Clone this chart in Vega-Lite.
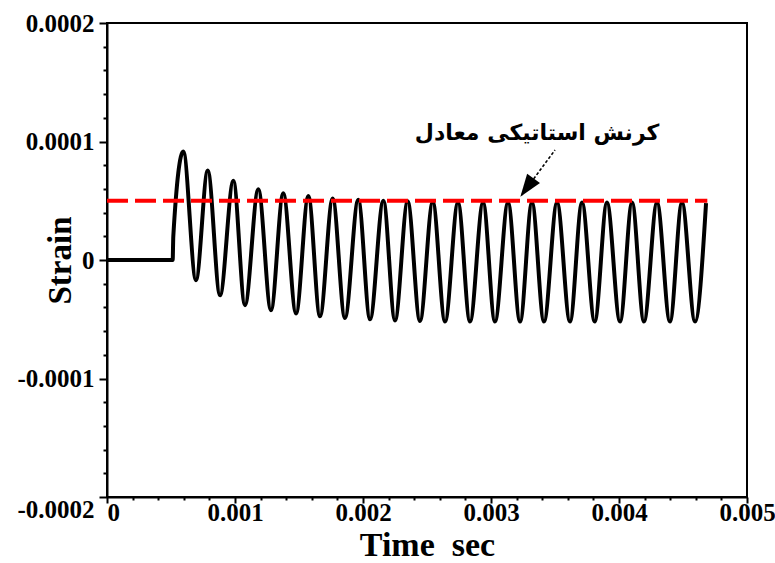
{
  "$schema": "https://vega.github.io/schema/vega-lite/v6.json",
  "width": 640,
  "height": 474,
  "autosize": "none",
  "padding": {"left": 107, "top": 23, "right": 28, "bottom": 66},
  "background": "white",
  "config": {
    "view": {"stroke": "black", "strokeWidth": 2},
    "axis": {
      "domainColor": "black", "domainWidth": 2,
      "tickColor": "black", "tickWidth": 2,
      "labelFont": "Liberation Serif", "labelFontWeight": "bold", "labelFontSize": 25, "labelColor": "black",
      "titleFont": "Liberation Serif", "titleFontWeight": "bold", "titleColor": "black",
      "grid": false, "labelOverlap": false, "labelBound": false, "labelFlush": false
    }
  },
  "resolve": {"axis": {"x": "independent", "y": "independent"}},
  "datasets": {
    "signal": [
      {"t": 0, "v": 0}, {"t": 0.000513, "v": 0}, {"t": 0.000518, "v": 0.00002},
      {"t": 0.000596, "v": 0.0000915}, {"t": 0.000695, "v": -0.000017},
      {"t": 0.000787, "v": 0.0000755}, {"t": 0.000883, "v": -0.0000297},
      {"t": 0.000987, "v": 0.0000668}, {"t": 0.001078, "v": -0.0000381},
      {"t": 0.001182, "v": 0.0000597}, {"t": 0.001281, "v": -0.0000423},
      {"t": 0.001377, "v": 0.0000563}, {"t": 0.001477, "v": -0.0000451},
      {"t": 0.001573, "v": 0.0000541}, {"t": 0.001664, "v": -0.0000475},
      {"t": 0.001763, "v": 0.000052}, {"t": 0.001859, "v": -0.000049},
      {"t": 0.001963, "v": 0.0000508}, {"t": 0.002055, "v": -0.00005},
      {"t": 0.002159, "v": 0.00005}, {"t": 0.00225, "v": -0.000051},
      {"t": 0.002349, "v": 0.0000495}, {"t": 0.002445, "v": -0.0000515},
      {"t": 0.002545, "v": 0.000049}, {"t": 0.002641, "v": -0.000052},
      {"t": 0.002742, "v": 0.0000485}, {"t": 0.002836, "v": -0.000052},
      {"t": 0.002938, "v": 0.0000485}, {"t": 0.003031, "v": -0.000052},
      {"t": 0.003133, "v": 0.0000485}, {"t": 0.003227, "v": -0.000052},
      {"t": 0.00332, "v": 0.0000485}, {"t": 0.003414, "v": -0.000052},
      {"t": 0.003516, "v": 0.0000485}, {"t": 0.003617, "v": -0.000052},
      {"t": 0.003711, "v": 0.0000485}, {"t": 0.00381, "v": -0.000052},
      {"t": 0.003906, "v": 0.0000485}, {"t": 0.004008, "v": -0.000052},
      {"t": 0.004102, "v": 0.0000485}, {"t": 0.004195, "v": -0.000052},
      {"t": 0.004297, "v": 0.0000485}, {"t": 0.004398, "v": -0.000052},
      {"t": 0.004492, "v": 0.0000485}, {"t": 0.004594, "v": -0.000052},
      {"t": 0.00468, "v": 0.000048}
    ],
    "static": [{"t": 0, "v": 0.00005}, {"t": 0.00469, "v": 0.00005}],
    "arrow": [{"t": 0.0035, "v": 0.0000928}, {"t": 0.00324, "v": 0.0000549}],
    "head": [{"t": 0.00329, "v": 0.0000625}],
    "label": [{"t": 0.00336, "v": 0.000107, "txt": "کرنش استاتیکی معادل"}]
  },
  "layer": [
    {
      "data": {"name": "signal"},
      "mark": {"type": "line", "color": "black", "strokeWidth": 4, "interpolate": "monotone"},
      "encoding": {
        "x": {
          "field": "t", "type": "quantitative",
          "scale": {"domain": [0, 0.005], "nice": false, "zero": false},
          "axis": {
            "orient": "bottom",
            "title": "Time\u00a0\u00a0sec", "titleFontSize": 34, "titleBaseline": "alphabetic", "titleY": 58, "titleX": 320,
            "values": [0, 0.001, 0.002, 0.003, 0.004, 0.005],
            "format": ".3~f",
            "tickSize": 6,
            "labelAlign": {"condition": {"test": "datum.value == 0", "value": "left"}, "value": "center"},
            "labelPadding": -3,
            "labelOverlap": false,
            "labelFlush": false
          }
        },
        "y": {
          "field": "v", "type": "quantitative",
          "scale": {"domain": [-0.0002, 0.0002], "nice": false, "zero": false},
          "axis": {
            "orient": "left",
            "title": "Strain", "titleFontSize": 33, "titleBaseline": "alphabetic", "titleX": -37, "titleY": 237,
            "values": [-0.0002, -0.0001, 0, 0.0001, 0.0002],
            "labelExpr": "datum.value < 0 ? '-' + format(-datum.value, '.4~f') : format(datum.value, '.4~f')",
            "tickSize": 8,
            "labelBaseline": {"condition": {"test": "datum.value < -0.00015", "value": "top"}, "value": "middle"},
            "labelPadding": 5,
            "labelOverlap": false
          }
        }
      }
    },
    {
      "data": {"name": "static"},
      "mark": {"type": "line", "color": "#ff0000", "strokeWidth": 4, "strokeDash": [21, 7]},
      "encoding": {
        "x": {
          "field": "t", "type": "quantitative",
          "axis": {
            "orient": "bottom", "title": null, "labels": false, "domain": false, "tickSize": 3,
            "values": [0.0002,0.0004,0.0006,0.0008,0.0012,0.0014,0.0016,0.0018,0.0022,0.0024,0.0026,0.0028,0.0032,0.0034,0.0036,0.0038,0.0042,0.0044,0.0046,0.0048]
          }
        },
        "y": {
          "field": "v", "type": "quantitative",
          "axis": {
            "orient": "left", "title": null, "labels": false, "domain": false, "tickSize": 4,
            "values": [-0.00018,-0.00016,-0.00014,-0.00012,-0.00008,-0.00006,-0.00004,-0.00002,0.00002,0.00004,0.00006,0.00008,0.00012,0.00014,0.00016,0.00018]
          }
        }
      }
    },
    {
      "data": {"name": "arrow"},
      "mark": {"type": "line", "color": "black", "strokeWidth": 1.6, "strokeDash": [3, 2]},
      "encoding": {
        "x": {"field": "t", "type": "quantitative", "axis": null},
        "y": {"field": "v", "type": "quantitative", "axis": null}
      }
    },
    {
      "data": {"name": "head"},
      "mark": {"type": "point", "shape": "M0,-1L0.6,0.7L-0.6,0.7Z", "size": 700, "angle": 216, "filled": true, "color": "black", "opacity": 1, "strokeWidth": 0},
      "encoding": {
        "x": {"field": "t", "type": "quantitative", "axis": null},
        "y": {"field": "v", "type": "quantitative", "axis": null}
      }
    },
    {
      "data": {"name": "label"},
      "mark": {"type": "text", "font": "DejaVu Sans", "fontWeight": "bold", "fontSize": 22, "align": "center", "baseline": "middle", "color": "black"},
      "encoding": {
        "x": {"field": "t", "type": "quantitative", "axis": null},
        "y": {"field": "v", "type": "quantitative", "axis": null},
        "text": {"field": "txt"}
      }
    }
  ]
}
